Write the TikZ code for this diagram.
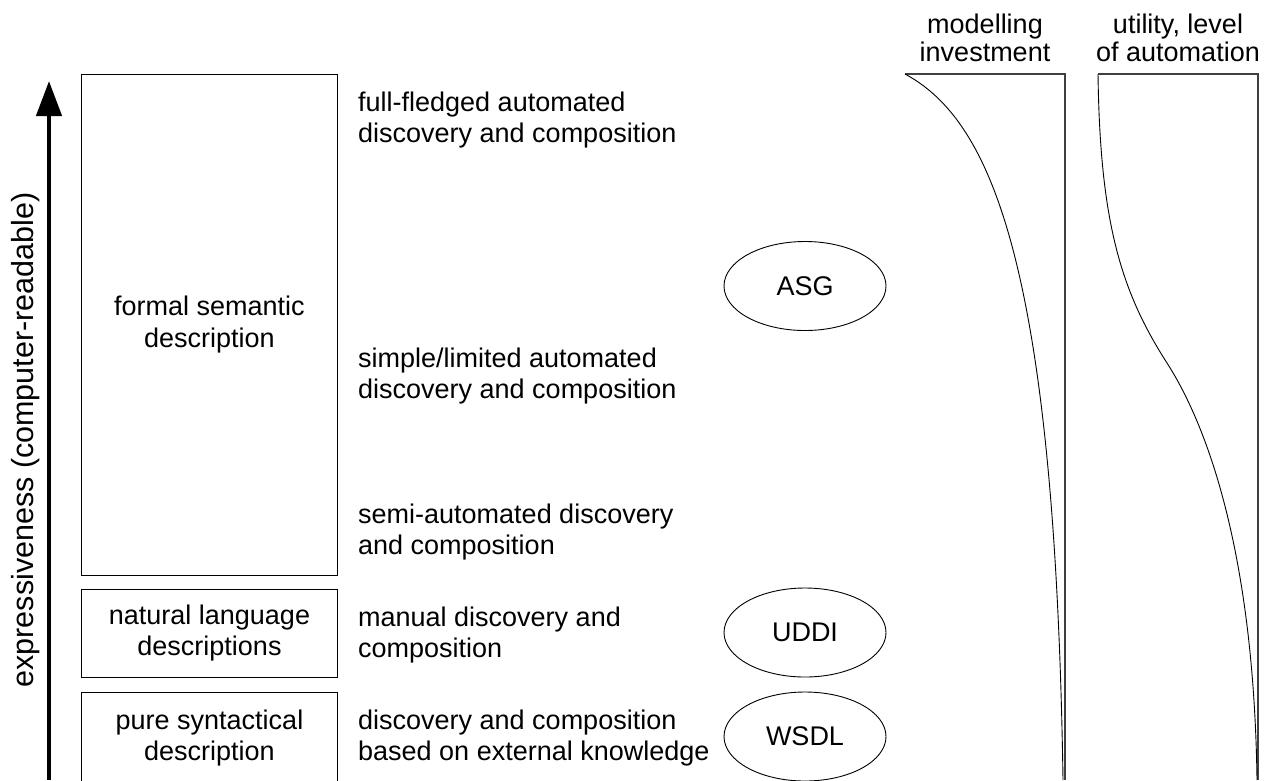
\documentclass[tikz,border=0pt]{standalone}
\usepackage{fontspec}
\setmainfont{Liberation Sans}
\usetikzlibrary{shapes.geometric,arrows.meta}
\begin{document}
\begin{tikzpicture}[x=1pt,y=-1pt,
  every node/.style={font=\fontsize{27}{31.5}\selectfont, inner sep=0pt},
  boxnode/.style={draw, line width=1pt, align=center, minimum width=256pt},
  desc/.style={align=left, anchor=west},
  head/.style={align=center, font=\fontsize{27}{28}\selectfont},
  ell/.style={draw, ellipse, minimum width=162pt, minimum height=89pt, line width=0.9pt},
  thin/.style={line width=0.9pt},
  frame/.style={line width=1.3pt, black!75}]
\useasboundingbox (0,0) rectangle (1271,780);
% left boxes
\node[boxnode, minimum height=501pt] (formal) at (209.5,324.5) {formal semantic\\description};
\node[boxnode, minimum height=88pt] (natural) at (209.5,633) {natural language\\descriptions};
\node[boxnode, minimum height=92pt] (pure) at (209.5,738) {pure syntactical\\description};
% descriptions
\node[desc] (d1) at (358,120) {full-fledged automated\\discovery and composition};
\node[desc] (d2) at (358,376) {simple/limited automated\\discovery and composition};
\node[desc] (d3) at (358,532) {semi-automated discovery\\and composition};
\node[desc] (d4) at (358,635) {manual discovery and\\composition};
\node[desc] (d5) at (358,738) {discovery and composition\\based on external knowledge};
% ellipses
\node[ell] (asg) at (805,286) {ASG};
\node[ell] (uddi) at (805,632.5) {UDDI};
\node[ell] (wsdl) at (805,736.5) {WSDL};
% axis arrow
\coordinate (axbot) at (49,780);
\coordinate (axtop) at (49,81);
\draw[line width=4.5pt, -{Triangle[width=25pt,length=35pt]}] (axbot) -- (axtop);
\node[rotate=90, font=\fontsize{30.5}{34}\selectfont] (axlabel) at (26,440) {expressiveness (computer-readable)};
% headers
\node[head] (hmod) at (985,37.5) {modelling\\investment};
\node[head] (hutil) at (1178,37.5) {utility, level\\of automation};
% modelling investment chart
\coordinate (m0) at (905,74);
\coordinate (m1) at (1065,74);
\coordinate (m2) at (1065,780);
\coordinate (m3) at (1063,780);
\draw[frame] (m0) -- (m1) -- (m2);
\draw[thin] (m0) .. controls (990,120) and (1055,260) .. (m3);
% utility chart
\coordinate (u0) at (1098,74);
\coordinate (u1) at (1258,74);
\coordinate (u2) at (1258,780);
\coordinate (um) at (1167,363);
\coordinate (u3) at (1257,780);
\draw[frame] (u0) -- (u1) -- (u2);
\draw[thin] (u0) .. controls (1100,220) and (1120,290) .. (um) .. controls (1210,430) and (1254,560) .. (u3);
\end{tikzpicture}
\end{document}
